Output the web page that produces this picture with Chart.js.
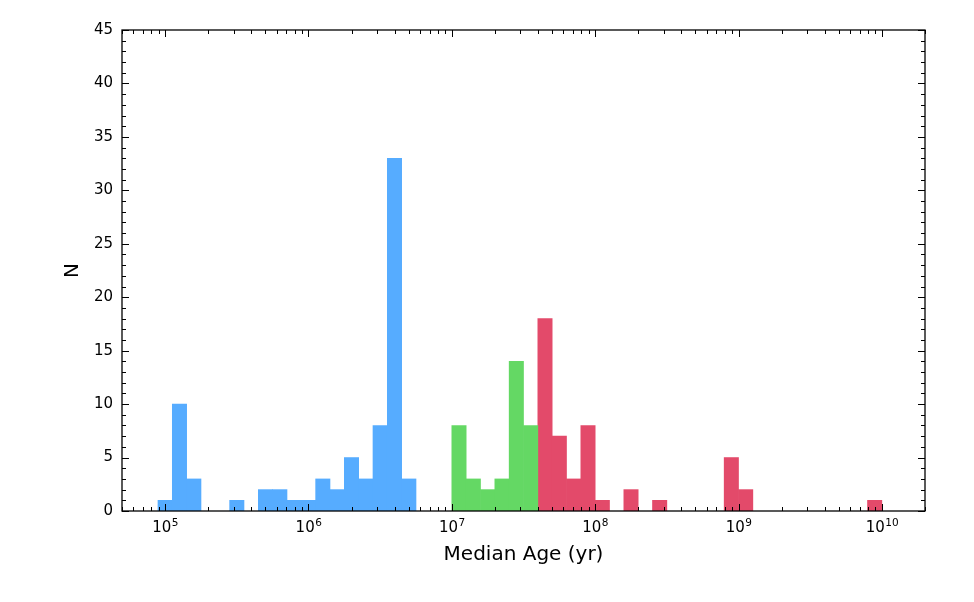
<!DOCTYPE html>
<html>
<head>
<meta charset="utf-8">
<script src="https://cdn.jsdelivr.net/npm/chart.js@4"></script>
<style>
  html, body { margin: 0; padding: 0; background: #fff; }
</style>
</head>
<body>
<canvas id="myChart" width="974" height="602"></canvas>
<script>
const Chart = window.Chart;

// histogram bins: centre of each 0.1 dex bin, in log10(age / yr)
const youngLogAge = [5.0, 5.1, 5.2, 5.3, 5.4, 5.5, 5.6, 5.7, 5.8, 5.9, 6.0, 6.1, 6.2, 6.3, 6.4, 6.5, 6.6, 6.7];
const youngCounts = [1, 10, 3, 0, 0, 1, 0, 2, 2, 1, 1, 3, 2, 5, 3, 8, 33, 3];

const midLogAge = [7.05, 7.15, 7.25, 7.35, 7.45, 7.55];
const midCounts = [8, 3, 2, 3, 14, 8];

const oldLogAge = [7.65, 7.75, 7.85, 7.95, 8.05, 8.15, 8.25, 8.35, 8.45, 8.55, 8.65, 8.75,
                   8.85, 8.95, 9.05, 9.15, 9.25, 9.35, 9.45, 9.55, 9.65, 9.75, 9.85, 9.95];
const oldCounts = [18, 7, 3, 8, 1, 0, 2, 0, 1, 0, 0, 0, 0, 5, 2, 0, 0, 0, 0, 0, 0, 0, 0, 1];

const xDecades = [5, 6, 7, 8, 9, 10];
const yTicks = [0, 5, 10, 15, 20, 25, 30, 35, 40, 45];

const FONT = 'DejaVu Sans';

// empty bins are left out so no zero-height sliver gets drawn
function toPoints(xs, ys) {
  return xs.map((x, i) => ({ x: x, y: ys[i] })).filter(p => p.y > 0);
}

// frame + inward ticks on all four sides, like the matplotlib original
const axisFrame = {
  id: 'axisFrame',
  afterDatasetsDraw(chart) {
    const { ctx, chartArea: a, scales: { x, y } } = chart;
    const line = (x1, y1, x2, y2) => {
      ctx.beginPath();
      ctx.moveTo(x1, y1);
      ctx.lineTo(x2, y2);
      ctx.stroke();
    };
    ctx.save();
    ctx.strokeStyle = '#000';
    ctx.lineWidth = 1;
    for (let n = 4; n <= 10; n++) {
      for (let k = 1; k <= 9; k++) {
        const v = n + Math.log10(k);
        if (v < x.min || v > x.max) continue;
        const p = Math.round(x.getPixelForValue(v)) + 0.5;
        const len = k === 1 ? 7 : 4;
        line(p, a.bottom, p, a.bottom - len);
        line(p, a.top, p, a.top + len);
      }
    }
    for (let v = 0; v <= 45; v++) {
      const p = Math.round(y.getPixelForValue(v)) + 0.5;
      const len = v % 5 === 0 ? 7 : 4;
      line(a.left, p, a.left + len, p);
      line(a.right, p, a.right - len, p);
    }
    ctx.lineWidth = 1.3;
    ctx.strokeRect(a.left, a.top, a.right - a.left, a.bottom - a.top);

    // x tick labels as 10 with a raised exponent
    ctx.fillStyle = '#000';
    ctx.textBaseline = 'alphabetic';
    ctx.textAlign = 'left';
    const baseFont = '15px "' + FONT + '"';
    const expFont = '10.5px "' + FONT + '"';
    for (const d of xDecades) {
      const p = x.getPixelForValue(d);
      const exp = String(d);
      ctx.font = baseFont;
      const wb = ctx.measureText('10').width;
      ctx.font = expFont;
      const we = ctx.measureText(exp).width;
      const x0 = p - (wb + we) / 2;
      ctx.font = baseFont;
      ctx.fillText('10', x0, a.bottom + 21);
      ctx.font = expFont;
      ctx.fillText(exp, x0 + wb + 0.5, a.bottom + 15);
    }
    ctx.restore();
  }
};

function initChart(target) {
  return new Chart(target, {
    type: 'bar',
    data: {
      datasets: [
        { label: 'young', data: toPoints(youngLogAge, youngCounts), backgroundColor: '#56acff' },
        { label: 'mid', data: toPoints(midLogAge, midCounts), backgroundColor: '#64d864' },
        { label: 'old', data: toPoints(oldLogAge, oldCounts), backgroundColor: '#e34a6a' }
      ]
    },
    options: {
      responsive: false,
      animation: false,
      layout: { padding: { top: 30, right: 49, left: 0, bottom: 0 } },
      plugins: { legend: { display: false }, tooltip: { enabled: false } },
      datasets: { bar: { barPercentage: 1, categoryPercentage: 1, borderWidth: 0 } },
      scales: {
        x: {
          type: 'linear',
          min: Math.log10(5e4),
          max: Math.log10(2e10),
          offset: false,
          stacked: true,
          grid: { display: false, drawTicks: false },
          border: { display: false },
          afterBuildTicks: s => { s.ticks = xDecades.map(v => ({ value: v })); },
          afterFit: s => { s.height = 91; },
          ticks: { display: false },
          title: {
            display: true,
            text: 'Median Age (yr)',
            font: { family: FONT, size: 20 },
            color: '#000',
            padding: { top: 0, bottom: 35 }
          }
        },
        y: {
          min: 0,
          max: 45,
          stacked: true,
          grid: { display: false, drawTicks: false },
          border: { display: false },
          afterBuildTicks: s => { s.ticks = yTicks.map(v => ({ value: v })); },
          afterFit: s => { s.width = 122; },
          ticks: {
            font: { family: FONT, size: 15 },
            color: '#000',
            padding: 9
          },
          title: {
            display: true,
            text: 'N',
            font: { family: FONT, size: 20 },
            color: '#000',
            padding: { top: 61, bottom: 0 }
          }
        }
      }
    },
    plugins: [axisFrame]
  });
}

document.addEventListener('DOMContentLoaded', () => {
  initChart(document.querySelector('#myChart'));
});
</script>
</body>
</html>
